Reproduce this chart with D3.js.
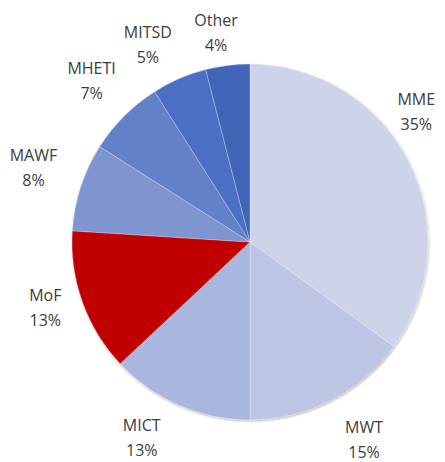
<!DOCTYPE html>
<html>
<head>
<meta charset="utf-8">
<script src="https://cdn.jsdelivr.net/npm/d3@7"></script>
<style>
  html, body { margin: 0; padding: 0; background: #ffffff; }
  svg { display: block; }
</style>
</head>
<body>
<script>
const categories = ["MME", "MWT", "MICT", "MoF", "MAWF", "MHETI", "MITSD", "Other"];
const values = [35, 15, 13, 13, 8, 7, 5, 4];
const percentLabels = ["35%", "15%", "13%", "13%", "8%", "7%", "5%", "4%"];
const colors = ["#cdd4ea", "#bcc5e4", "#a9b6de", "#c00000", "#7e95d0", "#6381c9", "#4b70c3", "#3f65b6"];

const W = 445, H = 462;
const cx = 250, cy = 242, R = 178;
// label layout tweaks (angle shift in degrees, radius) per slice, as placed in the original
const labelShiftDeg = [-11, -3, 5.5, 2, 1, 0.5, -4, -2];
const labelRadius = [211, 228, 224, 215, 229, 226, 222, 212];

const svg = d3.select("body").append("svg").attr("width", W).attr("height", H);

const defs = svg.append("defs");
const f = defs.append("filter").attr("id", "sh").attr("x", "-10%").attr("y", "-10%").attr("width", "120%").attr("height", "120%");
f.append("feDropShadow").attr("dx", 0.5).attr("dy", 1).attr("stdDeviation", 1.2).attr("flood-color", "#000").attr("flood-opacity", 0.35);

const data = categories.map((c, i) => ({ name: c, value: values[i], pct: percentLabels[i], color: colors[i] }));

const pie = d3.pie().value(d => d.value).sort(null);
const arcs = pie(data);
const arc = d3.arc().innerRadius(0).outerRadius(R);

const g = svg.append("g").attr("transform", `translate(${cx},${cy})`);

g.append("g").attr("filter", "url(#sh)")
  .selectAll("path").data(arcs).join("path")
  .attr("d", arc)
  .attr("fill", d => d.data.color)
  .attr("stroke", "rgba(255,255,255,0.35)")
  .attr("stroke-width", 0.8);

const labels = g.append("g")
  .attr("font-family", "'Open Sans', 'Noto Sans', sans-serif")
  .attr("font-size", 16)
  .attr("fill", "#3c3c3c")
  .attr("text-anchor", "middle");

arcs.forEach((a, i) => {
  const ang = (a.startAngle + a.endAngle) / 2 + labelShiftDeg[i] * Math.PI / 180;
  const r = labelRadius[i];
  const x = r * Math.sin(ang);
  const y = -r * Math.cos(ang);
  const t = labels.append("text").attr("transform", `translate(${x},${y})`);
  t.append("tspan").attr("x", 0).attr("y", -12.5).attr("dy", "0.35em").text(a.data.name);
  t.append("tspan").attr("x", 0).attr("y", 12.5).attr("dy", "0.35em").text(a.data.pct);
});
</script>
</body>
</html>
